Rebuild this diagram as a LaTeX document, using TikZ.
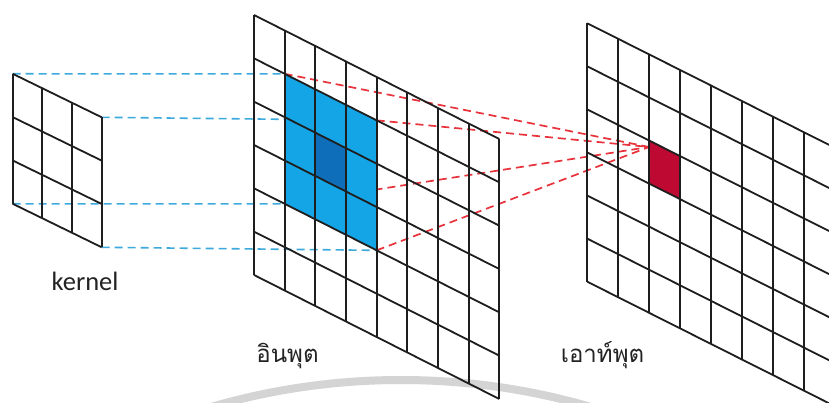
\documentclass[tikz,border=0pt]{standalone}
\usepackage{fontspec}
\setmainfont{Carlito}
\newfontfamily\thaifont[Script=Thai]{Loma}
\definecolor{gridc}{RGB}{30,30,30}
\definecolor{lightblue}{RGB}{20,165,230}
\definecolor{darkblue}{RGB}{15,110,185}
\definecolor{redcell}{RGB}{190,10,50}
\definecolor{bluedash}{RGB}{60,170,220}
\definecolor{reddash}{RGB}{232,50,60}
\definecolor{txt}{RGB}{35,35,35}
\newcommand{\pgrid}[7]{%
  \foreach \i in {0,...,#6}{\draw[gridline] ({#1+\i*#3},{#2+\i*#4}) -- ({#1+\i*#3},{#2+\i*#4+#7*#5});}
  \foreach \j in {0,...,#7}{\draw[gridline] (#1,{#2+\j*#5}) -- ({#1+#6*#3},{#2+#6*#4+\j*#5});}%
}
% fill: ox oy w d h i j n style
\newcommand{\pfill}[9]{%
  \fill[#9] ({#1+#6*#3},{#2+#6*#4+#7*#5}) -- ({#1+(#6+#8)*#3},{#2+(#6+#8)*#4+#7*#5})
     -- ({#1+(#6+#8)*#3},{#2+(#6+#8)*#4+(#7+#8)*#5}) -- ({#1+#6*#3},{#2+#6*#4+(#7+#8)*#5}) -- cycle;%
}
\tikzset{
  gridline/.style={draw=gridc, line width=1.8pt},
  bluedashline/.style={draw=bluedash, line width=1.6pt, dash pattern=on 8pt off 5pt},
  reddashline/.style={draw=reddash, line width=1.7pt, dash pattern=on 8pt off 5pt},
  lbl/.style={text=txt, anchor=base, inner sep=0pt},
}
\begin{document}
\begin{tikzpicture}[x=1pt,y=-1pt]
\useasboundingbox (0,0) rectangle (829,403);
\clip (0,0) rectangle (829,403);
\fill[white] (0,0) rectangle (829,403);
% watermark arc
\draw[black!17, line width=8pt] (401,1057) circle (677);
% named corner coordinates
\coordinate (kTL) at (12.7,73.8);
\coordinate (kTR) at (101.7,117.3);
\coordinate (kBL) at (12.7,203.8);
\coordinate (kBR) at (101.7,247.3);
\coordinate (bTL) at (284.66,73.83);
\coordinate (bTR) at (376.64,120.33);
\coordinate (bBL) at (284.66,203.83);
\coordinate (bBR) at (376.64,250.33);
\coordinate (target) at (649.1,147);
% projection lines
\draw[bluedashline] (kTL) -- (bTL);
\draw[bluedashline] (kTR) -- (bTR);
\draw[bluedashline] (kBL) -- (bBL);
\draw[bluedashline] (kBR) -- (bBR);
\draw[reddashline] (bTL) -- (target);
\draw[reddashline] (bTR) -- (target);
\draw[reddashline] (bBL) -- (target);
\draw[reddashline] (bBR) -- (target);
% fills
\pfill{254}{15}{30.66}{15.5}{43.33}{1}{1}{3}{lightblue}
\pfill{254}{15}{30.66}{15.5}{43.33}{2}{2}{1}{darkblue}
\pfill{587.3}{23.3}{30.9}{15.54}{43.07}{2}{2}{1}{redcell}
% grids
\pgrid{12.7}{73.8}{29.67}{14.5}{43.33}{3}{3}
\pgrid{254}{15}{30.66}{15.5}{43.33}{8}{6}
\pgrid{587.3}{23.3}{30.9}{15.54}{43.07}{8}{6}
% labels
\node[lbl, font=\fontsize{26.5}{30}\selectfont] (kernel) at (85,290) {kernel};
\node[lbl, font=\thaifont\fontsize{24}{30}\selectfont] (inlabel) at (287.5,362) {อินพุต};
\node[lbl, font=\thaifont\fontsize{24}{30}\selectfont] (outlabel) at (602.5,362) {เอาท์พุต};
\end{tikzpicture}
\end{document}
